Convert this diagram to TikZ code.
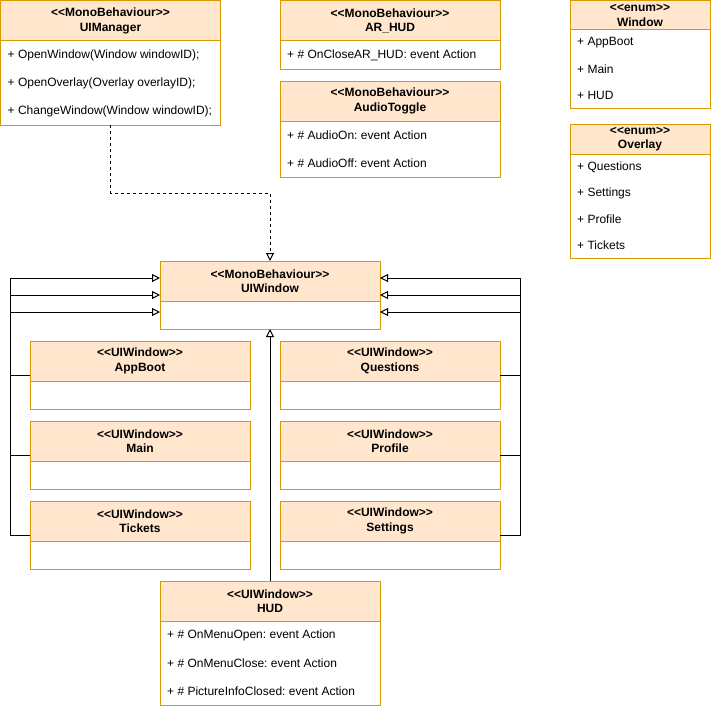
\documentclass[tikz,border=0pt]{standalone}
\usepackage{fontspec}
\setmainfont{Liberation Sans}
\usetikzlibrary{arrows.meta}
\definecolor{headfill}{HTML}{FFE6CC}
\definecolor{headline}{HTML}{D79B00}
\frenchspacing

\begin{document}
\begin{tikzpicture}[x=1pt,y=-1pt,
    font=\fontsize{12}{14}\selectfont,
    classbox/.style={draw=headline, fill=white, line width=1pt, anchor=north west,
      inner sep=0pt, outer sep=0pt},
    classhead/.style={draw=headline, fill=headfill, line width=1pt, anchor=north west,
      inner sep=0pt, outer sep=0pt, align=center, font=\fontsize{12}{14.5}\selectfont\bfseries},
    member/.style={anchor=west, inner sep=0pt},
    gen/.style={line width=1pt, -{Triangle[open,length=8pt,width=8pt]}}]
  \useasboundingbox (0,0) rectangle (711,709);

  % classes at the top
  \node[classbox, minimum width=220, minimum height=124] (uimanager) at (0.5,1) {};
  \node[classhead, minimum width=220, minimum height=40] (uimanagerh) at (uimanager.north west)
    {{<}{<}MonoBehaviour{>}{>}\\UIManager};
  \foreach \m [count=\i] in {+ OpenWindow(Window windowID);,
      + OpenOverlay(Overlay overlayID);, + ChangeWindow(Window windowID);}
    \node[member] (uimanager-\i) at ([shift={(7,14+28*(\i-1))}]uimanagerh.south west) {\m};

  \node[classbox, minimum width=220, minimum height=68] (arhud) at (280,1) {};
  \node[classhead, minimum width=220, minimum height=40] (arhudh) at (arhud.north west)
    {{<}{<}MonoBehaviour{>}{>}\\AR\_HUD};
  \node[member] (arhud-1) at ([shift={(7,14)}]arhudh.south west) {+ \# OnCloseAR\_HUD: event Action};

  \node[classbox, minimum width=220, minimum height=96] (audiotoggle) at (280,81) {};
  \node[classhead, minimum width=220, minimum height=40] (audiotoggleh) at (audiotoggle.north west)
    {{<}{<}MonoBehaviour{>}{>}\\AudioToggle};
  \foreach \m [count=\i] in {+ \# AudioOn: event Action, + \# AudioOff: event Action}
    \node[member] (audiotoggle-\i) at ([shift={(7,14+28*(\i-1))}]audiotoggleh.south west) {\m};

  % enums
  \node[classbox, minimum width=140, minimum height=107] (window) at (570,1) {};
  \node[classhead, minimum width=140, minimum height=29] (windowh) at (window.north west)
    {{<}{<}enum{>}{>}\\Window};
  \foreach \m [count=\i] in {+ AppBoot, + Main, + HUD}
    \node[member] (window-\i) at ([shift={(7,13+26*(\i-1))}]windowh.south west) {\m};

  \node[classbox, minimum width=140, minimum height=134] (overlay) at (570,124) {};
  \node[classhead, minimum width=140, minimum height=30] (overlayh) at (overlay.north west)
    {{<}{<}enum{>}{>}\\Overlay};
  \foreach \m [count=\i] in {+ Questions, + Settings, + Profile, + Tickets}
    \node[member] (overlay-\i) at ([shift={(7,13+26*(\i-1))}]overlayh.south west) {\m};

  % base window
  \node[classbox, minimum width=220, minimum height=68] (uiwindow) at (160,261) {};
  \node[classhead, minimum width=220, minimum height=40] (uiwindowh) at (uiwindow.north west)
    {{<}{<}MonoBehaviour{>}{>}\\UIWindow};

  % windows
  \foreach \n/\t/\x/\y in {appboot/AppBoot/30/341, main/Main/30/421, tickets/Tickets/30/501,
      questions/Questions/280/341, profile/Profile/280/421, settings/Settings/280/501} {
    \node[classbox, minimum width=220, minimum height=68] (\n) at (\x,\y) {};
    \node[classhead, minimum width=220, minimum height=40] (\n h) at (\n.north west)
      {{<}{<}UIWindow{>}{>}\\\t};
  }

  \node[classbox, minimum width=220, minimum height=124] (hud) at (160,581) {};
  \node[classhead, minimum width=220, minimum height=40] (hudh) at (hud.north west)
    {{<}{<}UIWindow{>}{>}\\HUD};
  \foreach \m [count=\i] in {+ \# OnMenuOpen: event Action, + \# OnMenuClose: event Action,
      + \# PictureInfoClosed: event Action}
    \node[member] (hud-\i) at ([shift={(7,14+28*(\i-1))}]hudh.south west) {\m};

  % connectors
  \draw[gen, dash pattern=on 3pt off 3pt] (uimanager.south) -- ++(0,68) -| (uiwindow.north);
  \draw[gen] (appboot.west) -- ++(-20,0) |- ([yshift=-17pt]uiwindow.west);
  \draw[gen] (main.west) -- ++(-20,0) |- (uiwindow.west);
  \draw[gen] (tickets.west) -- ++(-20,0) |- ([yshift=17pt]uiwindow.west);
  \draw[gen] (questions.east) -- ++(20,0) |- ([yshift=-17pt]uiwindow.east);
  \draw[gen] (profile.east) -- ++(20,0) |- (uiwindow.east);
  \draw[gen] (settings.east) -- ++(20,0) |- ([yshift=17pt]uiwindow.east);
  \draw[gen] (hud.north) -- (uiwindow.south);
\end{tikzpicture}
\end{document}
